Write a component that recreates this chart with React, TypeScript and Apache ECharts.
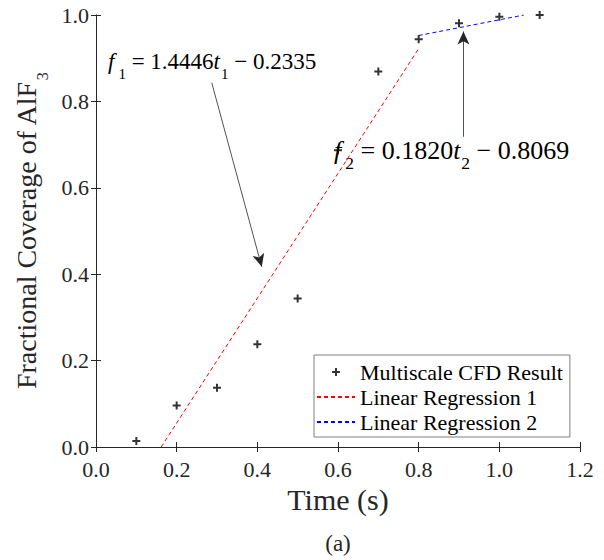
import React, { useEffect, useRef } from "react";
import * as echarts from "echarts";

const times = [0.1, 0.2, 0.3, 0.4, 0.5, 0.6, 0.7, 0.8, 0.9, 1.0, 1.1];
const coverage = [0.014, 0.096, 0.137, 0.238, 0.344, 0.687, 0.869, 0.944, 0.981, 0.996, 1.0];
const reg1 = [[0.1616, 0], [0.8, 0.9222]];
const reg2 = [[0.8, 0.9525], [1.061, 1.0]];
const arrow1 = [[0.287, 0.843], [0.411, 0.417]];
const arrow2 = [[0.911, 0.718], [0.911, 0.962]];
const xTicks = [0, 1.2, 0.2];
const yTicks = [0, 1.0, 0.2];

const FONT = "Liberation Serif";
const INK = "#262626";
const PLUS = "path://M3,0H5V3H8V5H5V8H3V5H0V3H3Z";

export default function App() {
  const ref = useRef<HTMLDivElement>(null);
  useEffect(() => {
    document.body.style.margin = "0";
    const chart = echarts.init(ref.current!, null, { renderer: "svg" });
    const eqRich = (size: number, sub: number, L: number) => ({
      n: { fontFamily: FONT, fontSize: size, verticalAlign: "top", color: "#000" },
      i: { fontFamily: FONT, fontSize: size, fontStyle: "italic", verticalAlign: "top", color: "#000" },
      fs: { fontFamily: FONT, fontSize: sub, lineHeight: L, verticalAlign: "bottom", color: "#000", padding: [0, 0, 0, 4] },
      s: { fontFamily: FONT, fontSize: sub, lineHeight: L, verticalAlign: "bottom", color: "#000", padding: [0, 0, 0, 1] },
    });
    const axisCommon = {
      type: "value",
      axisLine: { show: true, lineStyle: { color: INK, width: 1 } },
      axisTick: { show: true, inside: true, length: 5, lineStyle: { color: INK } },
      splitLine: { show: false },
    };
    const hiddenIcon = { color: "rgba(0,0,0,0)", opacity: 0, borderWidth: 0 };
    chart.setOption({
      animation: false,
      textStyle: { fontFamily: FONT },
      grid: { left: 96, right: 24, top: 15, bottom: 113, containLabel: false, outerBoundsMode: "none" },
      legend: {
        left: 314,
        top: 355,
        orient: "vertical",
        itemWidth: 38,
        itemHeight: 8,
        itemGap: 3,
        padding: [6, 7, 4, 2],
        borderColor: "#7f7f7f",
        borderWidth: 1,
        borderRadius: 0,
        backgroundColor: "#fff",
        textStyle: { fontFamily: FONT, fontSize: 22, lineHeight: 22, color: "#000" },
        data: [
          { name: "Multiscale CFD Result" },
          { name: "Linear Regression 1", itemStyle: hiddenIcon },
          { name: "Linear Regression 2", itemStyle: hiddenIcon },
        ],
      },
      xAxis: [
        {
          ...axisCommon,
          min: xTicks[0],
          max: xTicks[1],
          interval: xTicks[2],
          name: "Time (s)",
          nameLocation: "middle",
          nameGap: 35,
          nameTextStyle: { fontFamily: FONT, fontSize: 30, color: INK },
          axisLabel: {
            fontFamily: FONT, fontSize: 22, color: INK, margin: 11,
            formatter: (v: number) => v.toFixed(1),
          },
        },
        {
          ...axisCommon,
          position: "top",
          min: xTicks[0],
          max: xTicks[1],
          interval: xTicks[2],
          axisLabel: { show: false },
        },
      ],
      yAxis: [
        {
          ...axisCommon,
          min: yTicks[0],
          max: yTicks[1],
          interval: yTicks[2],
          name: "Fractional Coverage of AlF{s|3}",
          nameLocation: "middle",
          nameGap: 42,
          nameTextStyle: {
            fontFamily: FONT, fontSize: 28, color: INK,
            rich: {
              s: { fontFamily: FONT, fontSize: 16, color: INK, padding: [32, 0, 0, 1] },
            },
          },
          axisLabel: {
            fontFamily: FONT, fontSize: 22, color: INK, margin: 7,
            formatter: (v: number) => v.toFixed(1),
          },
        },
        {
          ...axisCommon,
          position: "right",
          min: yTicks[0],
          max: yTicks[1],
          interval: yTicks[2],
          axisLabel: { show: false },
        },
      ],
      series: [
        {
          name: "Multiscale CFD Result",
          type: "scatter",
          symbol: PLUS,
          symbolSize: 8,
          itemStyle: { color: "#000" },
          data: times.map((t, k) => [t, coverage[k]]),
          z: 5,
          markLine: {
            silent: true,
            symbol: ["none", "arrow"],
            symbolSize: [9, 13],
            label: { show: false },
            lineStyle: { color: INK, width: 0.8, type: "solid" },
            data: [
              [{ coord: arrow1[0] }, { coord: arrow1[1] }],
              [{ coord: arrow2[0] }, { coord: arrow2[1] }],
            ],
          },
        },
        {
          name: "Linear Regression 1",
          type: "line",
          symbol: "none",
          data: reg1,
          lineStyle: { color: "#ff0000", width: 1, type: [4, 3] },
          itemStyle: { color: "#ff0000" },
        },
        {
          name: "Linear Regression 2",
          type: "line",
          symbol: "none",
          data: reg2,
          lineStyle: { color: "#0000ff", width: 1, type: [4, 3] },
          itemStyle: { color: "#0000ff" },
        },
      ],
      graphic: [
        {
          type: "text",
          x: 108,
          y: 50,
          style: {
            text: "{i|f}{fs|1}{n| = 1.4446}{i|t}{s|1}{n| − 0.2335}",
            rich: eqRich(23, 15, 31),
          },
        },
        {
          type: "text",
          x: 334,
          y: 137,
          style: {
            text: "{i|f}{fs|2}{n| = 0.1820}{i|t}{s|2}{n| − 0.8069}",
            rich: eqRich(26, 17.5, 34.5),
          },
        },
        {
          type: "text",
          x: 338,
          y: 543,
          style: {
            text: "(a)",
            fontFamily: FONT,
            fontSize: 23,
            fill: INK,
            align: "center",
            verticalAlign: "middle",
          },
        },
      ],
    });
    return () => chart.dispose();
  }, []);
  return (
    <div
      ref={ref}
      style={{ position: "fixed", left: 0, top: 0, width: 604, height: 560, background: "#fff" }}
    />
  );
}
